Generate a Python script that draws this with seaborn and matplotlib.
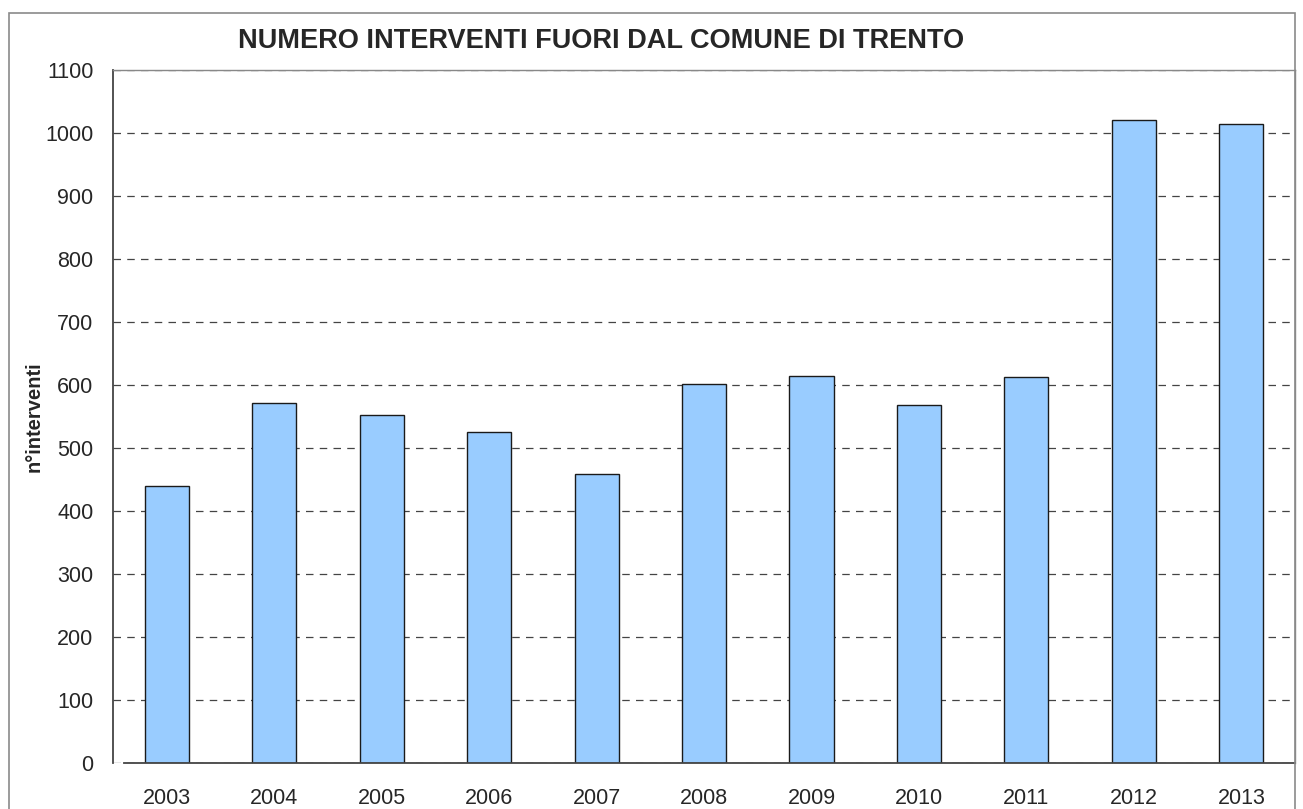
import numpy as np
import pandas as pd
import matplotlib
matplotlib.use("Agg")
import matplotlib.pyplot as plt
from matplotlib.patches import Rectangle
import seaborn as sns

years = ["2003", "2004", "2005", "2006", "2007", "2008",
         "2009", "2010", "2011", "2012", "2013"]
interventi = [439, 571, 553, 526, 459, 601, 615, 569, 613, 1020, 1015]
title = "NUMERO INTERVENTI FUORI DAL COMUNE DI TRENTO"
ylabel = "n°interventi"

df = pd.DataFrame({"anno": years, "n": interventi})

sns.set_style("white")
plt.rcParams["font.family"] = ["Liberation Sans", "DejaVu Sans"]

fig = plt.figure(figsize=(13.03, 8.09), dpi=100)
ax = fig.add_axes([0.0867, 0.0569, 0.9072, 0.8566])

sns.barplot(data=df, x="anno", y="n", color="#99CCFF", saturation=1,
            width=0.41, edgecolor="#1a1a1a", linewidth=1, ax=ax)

ax.set_ylim(0, 1100)
ax.set_xlim(-0.5, len(years) - 0.5)
ax.set_yticks(np.arange(0, 1101, 100))
ax.set_xticks(np.arange(-0.5, len(years), 1), minor=True)
ax.tick_params(axis="x", which="major", length=0, pad=18, labelsize=15.5)
ax.tick_params(axis="x", which="minor", length=8, width=1, color="#444444", direction="out")
ax.tick_params(axis="y", length=8, width=1, color="#444444", direction="out", pad=6, labelsize=15.5)
ax.set_xlabel("")
ax.set_ylabel(ylabel, fontsize=14.5, fontweight="bold")
ax.yaxis.set_label_coords(-0.059, 0.5)

ax.yaxis.grid(True, linestyle=(0, (6, 5)), color="#444444", linewidth=0.9)
ax.set_axisbelow(True)

for s in ["left", "bottom"]:
    ax.spines[s].set_color("#444444")
    ax.spines[s].set_linewidth(1.3)
ax.spines["bottom"].set_bounds(-0.4, len(years) - 0.5)
for s in ["top", "right"]:
    ax.spines[s].set_color("#888888")
    ax.spines[s].set_linewidth(1)

fig.text(0.461, 0.949, title, ha="center", va="center", fontsize=19.5, fontweight="bold")

# outer chart frame
fig.patches.append(Rectangle((9 / 1303, -0.05), 1286 / 1303, 1.05 - 13 / 809,
                             transform=fig.transFigure, fill=False,
                             edgecolor="#8a8a8a", linewidth=1.2))

fig.savefig("out.png", dpi=100)
